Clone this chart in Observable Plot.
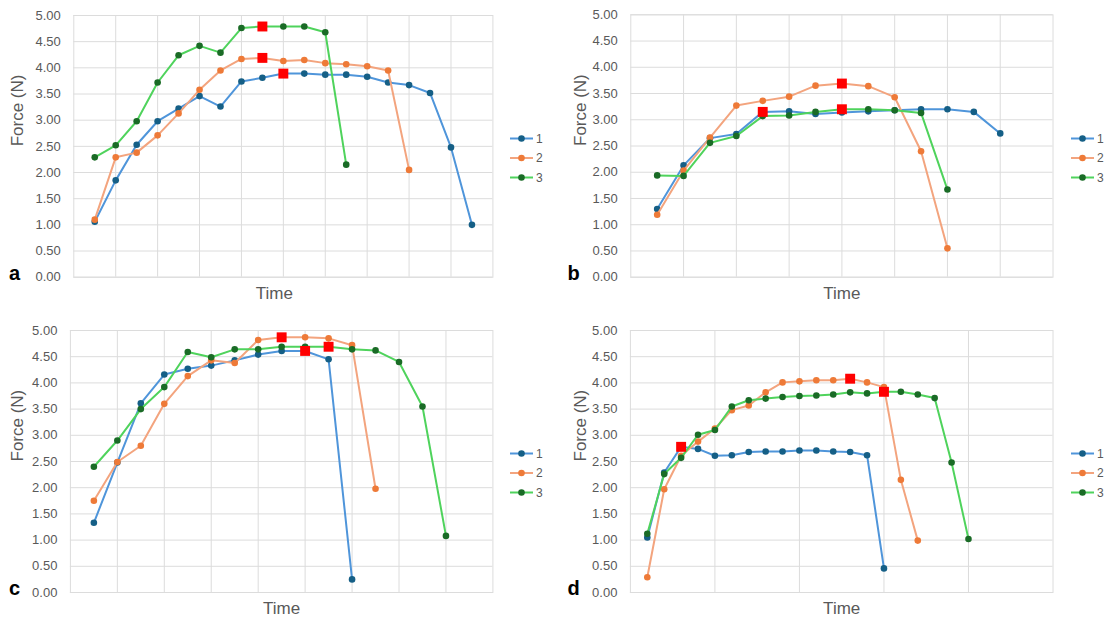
<!DOCTYPE html>
<html>
<head>
<meta charset="utf-8">
<script src="https://cdn.jsdelivr.net/npm/d3@7"></script>
<script src="https://cdn.jsdelivr.net/npm/@observablehq/plot@0.6"></script>
<style>
  html, body { margin: 0; padding: 0; background: #fff; }
  #root { position: relative; width: 1109px; height: 625px; font-family: "Liberation Sans", Arial, sans-serif; }
  .panel { position: absolute; width: 554px; height: 312px; }
  .panel svg { overflow: visible; }
  .legend { position: absolute; left: 0; top: 0; pointer-events: none; }
</style>
</head>
<body>
<div id="root"></div>
<script>
// ---- data ----
const seriesNames = ["1", "2", "3"];
const yTicks = [0, 0.5, 1, 1.5, 2, 2.5, 3, 3.5, 4, 4.5, 5];

// panel a (time positions start 0.5, step 0.5, axis 0..10)
const aBlue   = [1.06, 1.85, 2.53, 2.98, 3.22, 3.46, 3.26, 3.74, 3.81, 3.89, 3.89, 3.87, 3.87, 3.83, 3.72, 3.67, 3.52, 2.48, 1.00];
const aOrange = [1.10, 2.29, 2.38, 2.71, 3.13, 3.58, 3.95, 4.17, 4.19, 4.13, 4.15, 4.09, 4.07, 4.03, 3.95, 2.05];
const aGreen  = [2.29, 2.52, 2.98, 3.72, 4.24, 4.42, 4.29, 4.76, 4.79, 4.79, 4.79, 4.68, 2.15];
const aPeaks  = [[0, 9], [1, 8], [2, 8]];   // [series, point index]

// panel b (start 0.5, step 0.5, axis 0..8)
const bBlue   = [1.30, 2.13, 2.65, 2.73, 3.15, 3.16, 3.11, 3.14, 3.16, 3.18, 3.20, 3.20, 3.15, 2.74];
const bOrange = [1.19, 2.03, 2.66, 3.27, 3.36, 3.44, 3.65, 3.69, 3.64, 3.43, 2.40, 0.55];
const bGreen  = [1.94, 1.93, 2.56, 2.69, 3.07, 3.08, 3.15, 3.20, 3.20, 3.18, 3.13, 1.67];
const bPeaks  = [[0, 4], [1, 7], [2, 7]];

// panel c (start 0.5, step 0.5, axis 0..9)
const cBlue   = [1.33, 2.48, 3.61, 4.16, 4.27, 4.33, 4.43, 4.54, 4.61, 4.61, 4.45, 0.25];
const cOrange = [1.75, 2.49, 2.80, 3.60, 4.13, 4.43, 4.38, 4.82, 4.87, 4.87, 4.85, 4.72, 1.98];
const cGreen  = [2.40, 2.90, 3.50, 3.92, 4.59, 4.49, 4.64, 4.64, 4.69, 4.69, 4.69, 4.64, 4.62, 4.40, 3.55, 1.08];
const cPeaks  = [[1, 8], [0, 9], [2, 10]];

// panel d (start 0.2, step 0.2, axis 0..5)
const dBlue   = [1.05, 2.29, 2.78, 2.74, 2.61, 2.62, 2.68, 2.69, 2.69, 2.71, 2.71, 2.69, 2.68, 2.62, 0.46];
const dOrange = [0.29, 1.97, 2.61, 2.88, 3.13, 3.48, 3.57, 3.82, 4.01, 4.03, 4.05, 4.05, 4.08, 4.01, 3.92, 2.15, 0.99];
const dGreen  = [1.12, 2.26, 2.57, 3.01, 3.10, 3.55, 3.67, 3.70, 3.73, 3.75, 3.76, 3.78, 3.82, 3.80, 3.83, 3.83, 3.78, 3.71, 2.48, 1.02];
const dPeaks  = [[0, 2], [1, 12], [2, 14]];

// ---- styles ----
const lineColors = ["#4f95da", "#f3a47e", "#4fd35c"];
const dotColors  = ["#155f86", "#ee7a38", "#1a6b26"];
const gridColor = "#dcdcdc";
const textColor = "#595959";

const panels = [
  {letter: "a", series: [aBlue, aOrange, aGreen], peaks: aPeaks, start: 0.5, step: 0.5, xMax: 10,
   left: 0, top: 0, mL: 73.3, mR: 61.6, mT: 15, mB: 35.3, timeDx: -9, legX: 510},
  {letter: "b", series: [bBlue, bOrange, bGreen], peaks: bPeaks, start: 0.5, step: 0.5, xMax: 8,
   left: 555, top: 0, mL: 75.3, mR: 56.5, mT: 14.3, mB: 35.3, timeDx: 0, legX: 516},
  {letter: "c", series: [cBlue, cOrange, cGreen], peaks: cPeaks, start: 0.5, step: 0.5, xMax: 9,
   left: 0, top: 315, mL: 69.9, mR: 61.6, mT: 15, mB: 35, timeDx: 0, legX: 510},
  {letter: "d", series: [dBlue, dOrange, dGreen], peaks: dPeaks, start: 0.2, step: 0.2, xMax: 5,
   left: 555, top: 315, mL: 74.9, mR: 56.5, mT: 15, mB: 35, timeDx: 0, legX: 516}
];

const root = document.getElementById("root");

for (const p of panels) {
  const rows = [];
  p.series.forEach((vals, s) => {
    vals.forEach((v, i) => rows.push({s, name: seriesNames[s], t: p.start + i * p.step, v}));
  });
  const peakRows = p.peaks.map(([s, i]) => ({t: p.start + i * p.step, v: p.series[s][i]}));
  const xGrid = d3.range(1, p.xMax);

  const marks = [
    Plot.ruleY(yTicks, {stroke: gridColor, strokeWidth: 1}),
    Plot.ruleX(xGrid, {stroke: gridColor, strokeWidth: 1}),
    Plot.frame({stroke: gridColor, strokeWidth: 1}),
    Plot.axisY(yTicks, {tickFormat: d3.format(".2f"), tickSize: 0, tickPadding: 13, fontSize: 13, fill: textColor, label: null}),
  ];
  for (let s = 0; s < 3; s++) {
    const data = rows.filter(r => r.s === s);
    marks.push(Plot.line(data, {x: "t", y: "v", stroke: lineColors[s], strokeWidth: 2}));
    marks.push(Plot.dot(data, {x: "t", y: "v", fill: dotColors[s], r: 3.3, stroke: "none"}));
  }
  marks.push(Plot.dot(peakRows, {x: "t", y: "v", symbol: "square", r: 5.6, fill: "#ff0000", stroke: "none"}));
  marks.push(Plot.text(["Force (N)"], {text: d => d, frameAnchor: "left", dx: -(p.mL - (p.letter === "a" || p.letter === "c" ? 17 : 25)), rotate: -90, fontSize: 17, fill: textColor}));
  marks.push(Plot.text(["Time"], {text: d => d, frameAnchor: "bottom", dy: 16.5, dx: p.timeDx, lineAnchor: "middle", fontSize: 17, fill: textColor}));
  marks.push(Plot.text([p.letter], {text: d => d, frameAnchor: "bottom-left", dx: -(p.mL - (p.letter === "a" || p.letter === "c" ? 14 : 18)), dy: -4, lineAnchor: "middle", textAnchor: "middle", fontSize: 20, fontWeight: "bold", fill: "#000"}));

  const chart = Plot.plot({
    width: 554, height: 312,
    marginLeft: p.mL, marginRight: p.mR, marginTop: p.mT, marginBottom: p.mB,
    x: {domain: [0, p.xMax], axis: null},
    y: {domain: [0, 5], axis: null},
    style: {fontFamily: "'Liberation Sans', Arial, sans-serif", background: "transparent", overflow: "visible"},
    marks
  });

  const div = document.createElement("div");
  div.className = "panel";
  div.style.left = p.left + "px";
  div.style.top = p.top + "px";
  div.appendChild(chart);

  // legend
  const leg = d3.create("svg").attr("class", "legend").attr("width", 554).attr("height", 312);
  seriesNames.forEach((name, s) => {
    const y = 138.5 + s * 19.5;
    const g = leg.append("g");
    g.append("line").attr("x1", p.legX).attr("x2", p.legX + 23).attr("y1", y).attr("y2", y)
      .attr("stroke", lineColors[s]).attr("stroke-width", 2);
    g.append("circle").attr("cx", p.legX + 11.5).attr("cy", y).attr("r", 3.3).attr("fill", dotColors[s]);
    g.append("text").attr("x", p.legX + 26).attr("y", y).attr("dy", "0.35em")
      .attr("font-size", 12).attr("fill", textColor).attr("font-family", "'Liberation Sans', Arial, sans-serif").text(name);
  });
  div.appendChild(leg.node());
  root.appendChild(div);
}
</script>
</body>
</html>
